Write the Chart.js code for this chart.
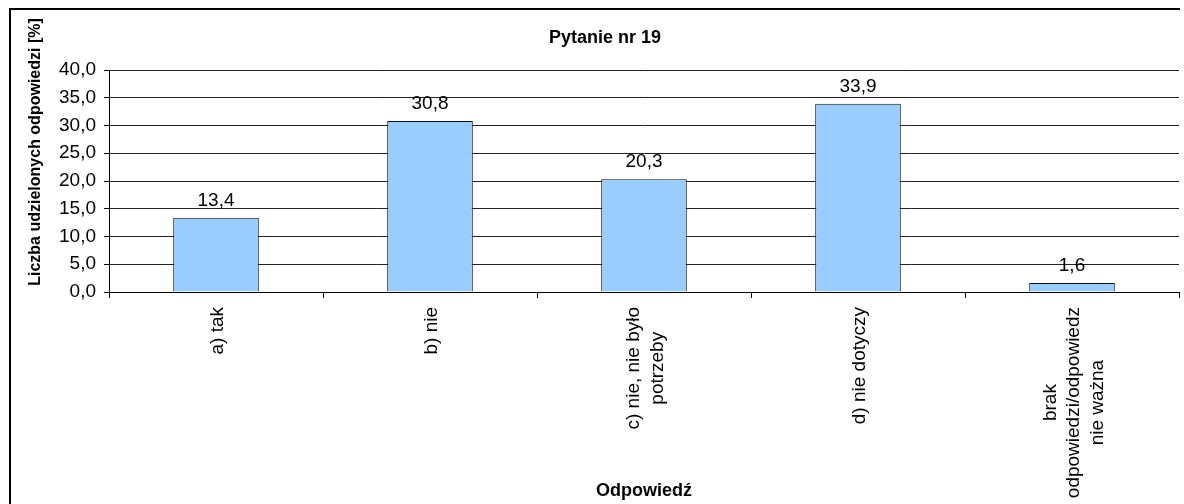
<!DOCTYPE html>
<html>
<head>
<meta charset="utf-8">
<script src="https://cdn.jsdelivr.net/npm/chart.js@4"></script>
<style>
    html, body { margin: 0; padding: 0; background: #fff; }
    #wrap { width: 1184px; height: 504px; }
</style>
</head>
<body>
<div id="wrap"><canvas id="chart" width="1184" height="504"></canvas></div>
<script>
// Data
const chartTitle = 'Pytanie nr 19';
const yAxisTitle = 'Liczba udzielonych odpowiedzi [%]';
const xAxisTitle = 'Odpowiedź';
const categories = [
    ['a) tak'],
    ['b) nie'],
    ['c) nie, nie było', 'potrzeby'],
    ['d) nie dotyczy'],
    ['brak', 'odpowiedzi/odpowiedz', 'nie ważna']
];
const values = [13.4, 30.8, 20.3, 33.9, 1.6];
const yMin = 0;
const yMax = 40;
const yStep = 5;

const FONT = 'Liberation Sans, Arial, sans-serif';
const TEXT_SIZE = 19;
Chart.defaults.font.family = FONT;
Chart.defaults.color = '#000';

function fmt(v) {
    return v.toFixed(1).replace('.', ',');
}

// frame + titles + rotated category labels + value labels
const extrasPlugin = {
    id: 'extras',
    beforeDraw(chart) {
        const ctx = chart.ctx;
        ctx.save();
        ctx.fillStyle = '#fff';
        ctx.fillRect(0, 0, chart.width, chart.height);
        ctx.fillStyle = '#000';
        ctx.fillRect(9, 8, 2, chart.height - 8);
        ctx.fillRect(9, 8, chart.width - 13, 2);
        ctx.restore();
    },
    afterDraw(chart) {
        const ctx = chart.ctx;
        const x = chart.scales.x;

        ctx.save();
        ctx.fillStyle = '#000';

        // main title
        ctx.font = `bold 18px ${FONT}`;
        ctx.textAlign = 'center';
        ctx.textBaseline = 'alphabetic';
        ctx.fillText(chartTitle, 605, 43);

        // y axis title
        ctx.save();
        ctx.translate(36, 152);
        ctx.rotate(-Math.PI / 2);
        ctx.font = `bold 16px ${FONT}`;
        ctx.textAlign = 'center';
        ctx.textBaseline = 'middle';
        ctx.fillText(yAxisTitle, 0, 0);
        ctx.restore();

        // category labels, rotated, lines centred on each other
        ctx.font = `${TEXT_SIZE}px ${FONT}`;
        const lh = 23.5;
        categories.forEach((lines, i) => {
            const cx = x.getPixelForTick(i) + 2;
            const w = Math.max(...lines.map(l => ctx.measureText(l).width));
            ctx.save();
            ctx.translate(cx, x.top + 15);
            ctx.rotate(-Math.PI / 2);
            ctx.textAlign = 'center';
            ctx.textBaseline = 'middle';
            lines.forEach((line, j) => {
                ctx.fillText(line, -w / 2, (j - (lines.length - 1) / 2) * lh);
            });
            ctx.restore();
        });

        // value labels over bars
        ctx.font = `${TEXT_SIZE}px ${FONT}`;
        ctx.textAlign = 'center';
        ctx.textBaseline = 'alphabetic';
        chart.getDatasetMeta(0).data.forEach((bar, i) => {
            ctx.fillText(fmt(values[i]), bar.x, bar.y - 12);
        });

        ctx.restore();
    }
};

new Chart(document.getElementById('chart'), {
    type: 'bar',
    data: {
        labels: categories,
        datasets: [{
            data: values,
            backgroundColor: '#99CCFF',
            borderColor: '#111',
            borderWidth: 1,
            barPercentage: 0.4,
            categoryPercentage: 1
        }]
    },
    options: {
        responsive: false,
        animation: false,
        devicePixelRatio: 1,
        layout: { padding: { left: 9, top: 70, right: 5, bottom: 0 } },
        plugins: {
            legend: { display: false },
            title: { display: false },
            tooltip: { enabled: false }
        },
        scales: {
            x: {
                offset: true,
                border: { display: true, color: '#000', width: 1 },
                grid: {
                    offset: true,
                    drawOnChartArea: false,
                    drawTicks: true,
                    tickLength: 6,
                    tickColor: '#000'
                },
                ticks: { display: false },
                title: {
                    display: true,
                    text: xAxisTitle,
                    font: { size: 18, weight: 'bold' },
                    color: '#000',
                    padding: { top: 0, bottom: 2 }
                },
                afterFit: s => { s.height = 212; }
            },
            y: {
                min: yMin,
                max: yMax,
                border: { display: true, color: '#000', width: 1 },
                grid: {
                    color: '#222',
                    lineWidth: 1,
                    drawTicks: true,
                    tickLength: 5,
                    tickColor: '#000'
                },
                ticks: {
                    stepSize: yStep,
                    padding: 8,
                    font: { size: TEXT_SIZE },
                    color: '#000',
                    callback: v => fmt(v)
                },
                afterFit: s => { s.width = 100; }
            }
        }
    },
    plugins: [extrasPlugin]
});
</script>
</body>
</html>
